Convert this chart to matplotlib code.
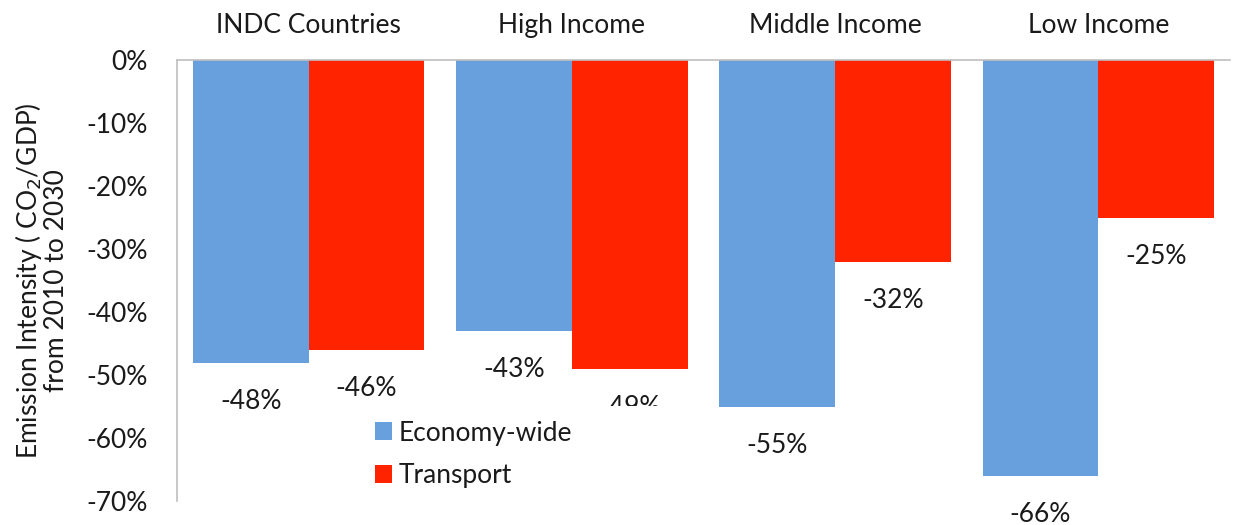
import numpy as np
import matplotlib.pyplot as plt

plt.rcParams['font.family'] = ['Lato', 'DejaVu Sans']

categories = ["INDC Countries", "High Income", "Middle Income", "Low Income"]
economy_wide = [-48, -43, -55, -66]
transport = [-46, -49, -32, -25]
yticks = [0, -10, -20, -30, -40, -50, -60, -70]

BLUE = "#67A0DD"
RED = "#FF2300"
TEXT = "#1a1a1a"
FS = 19

fig = plt.figure(figsize=(12.35, 5.25), dpi=100)
ax = fig.add_axes([0.1433, 0.0455, 0.996 - 0.1433, 0.8400])

x = np.arange(len(categories))
w = 0.44
b1 = ax.bar(x - w / 2, economy_wide, w, color=BLUE, label="Economy-wide", zorder=2)
b2 = ax.bar(x + w / 2, transport, w, color=RED, label="Transport", zorder=2)

# value labels sit a little below the end of each bar
for bars, vals in ((b1, economy_wide), (b2, transport)):
    for rect, v in zip(bars, vals):
        ax.annotate(f"{v}%", (rect.get_x() + rect.get_width() / 2, v),
                    xytext=(0, -28), textcoords="offset points",
                    ha="center", va="center", fontsize=FS, color=TEXT,
                    zorder=3, annotation_clip=False)

ax.set_xlim(-0.5, 3.5)
ax.set_ylim(-70, 0)
ax.set_yticks(yticks)
ax.set_yticklabels([f"{t}%" for t in yticks])
ax.tick_params(axis="y", length=0, pad=21, labelsize=FS, labelcolor=TEXT)

ax.xaxis.tick_top()
ax.set_xticks(x)
ax.set_xticklabels(categories)
ax.tick_params(axis="x", length=0, pad=16, labelsize=FS, labelcolor=TEXT)

for s in ("right", "bottom"):
    ax.spines[s].set_visible(False)
for s in ("left", "top"):
    ax.spines[s].set_color("#BFBFBF")
    ax.spines[s].set_linewidth(1.2)

ax.set_ylabel("Emission Intensity ( CO$_2$/GDP)\nfrom 2010 to 2030",
              fontsize=FS, color=TEXT, linespacing=1.0)
ax.yaxis.set_label_coords(-0.103, 0.5)

# legend box is wider than its entries and sits over the plot
lx0, lx1, ltop, lbot = 360, 668, 406, 502
leg = ax.legend(loc="upper left",
                bbox_to_anchor=(lx0 / 1235, 1 - lbot / 525,
                                (lx1 - lx0) / 1235, (lbot - ltop) / 525),
                bbox_transform=fig.transFigure, mode="expand",
                frameon=True, fontsize=FS,
                handlelength=0.65, handleheight=0.65, handletextpad=0.25,
                labelspacing=0.68, borderpad=0.55, borderaxespad=0,
                framealpha=1, fancybox=False)
leg.get_frame().set_edgecolor("none")
leg.set_zorder(5)
for t in leg.get_texts():
    t.set_color(TEXT)

fig.savefig("out.png", dpi=100)
